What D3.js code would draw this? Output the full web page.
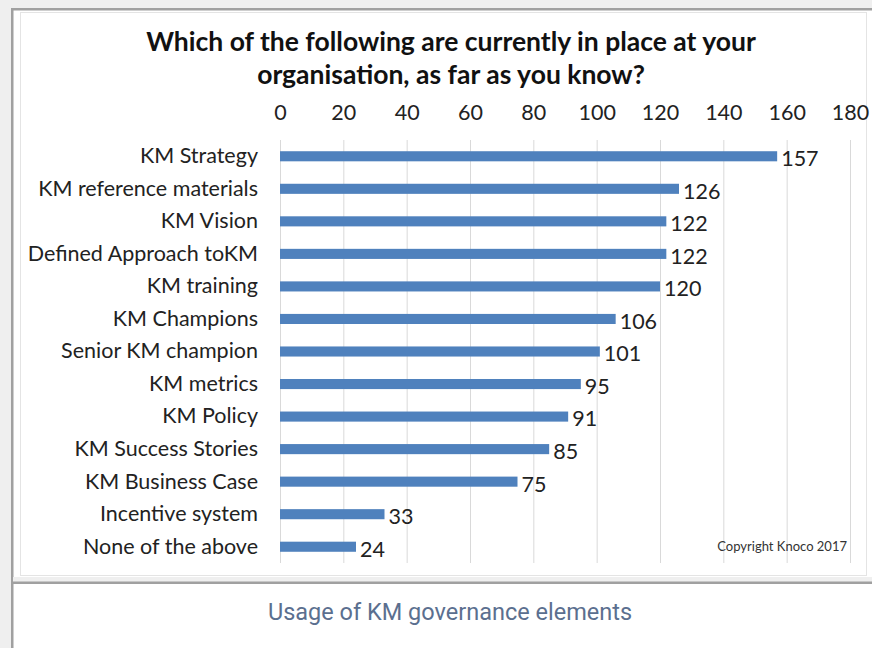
<!DOCTYPE html>
<html>
<head>
<meta charset="utf-8">
<script src="https://cdn.jsdelivr.net/npm/d3@7"></script>
<style>
  html, body { margin: 0; padding: 0; background: #ffffff; }
  svg { display: block; }
</style>
</head>
<body>
<svg id="chart" width="872" height="648"></svg>
<script>
// Survey responses: governance elements in place
const categories = [
  "KM Strategy",
  "KM reference materials",
  "KM Vision",
  "Defined Approach toKM",
  "KM training",
  "KM Champions",
  "Senior KM champion",
  "KM metrics",
  "KM Policy",
  "KM Success Stories",
  "KM Business Case",
  "Incentive system",
  "None of the above"
];
const counts = [157, 126, 122, 122, 120, 106, 101, 95, 91, 85, 75, 33, 24];
const tickValues = [0, 20, 40, 60, 80, 100, 120, 140, 160, 180];
const titleLines = [
  "Which of the following are currently in place at your",
  "organisation, as far as you know?"
];
const caption = "Usage of KM governance elements";
const copyright = "Copyright Knoco 2017";

const svg = d3.select("#chart");
const W = 872, H = 648;

// page frame
svg.append("rect").attr("x", 0).attr("y", 0).attr("width", W).attr("height", H).attr("fill", "#ffffff");
svg.append("rect").attr("x", 0).attr("y", 0).attr("width", W).attr("height", 9).attr("fill", "#efefef");
svg.append("rect").attr("x", 0).attr("y", 0).attr("width", 11).attr("height", H).attr("fill", "#efefef");
svg.append("rect").attr("x", 11).attr("y", 8).attr("width", W - 11).attr("height", 2.5).attr("fill", "#a0a0a0");
svg.append("rect").attr("x", 11).attr("y", 8).attr("width", 2.5).attr("height", H - 8).attr("fill", "#a0a0a0");

// chart image panel
svg.append("rect").attr("x", 20.5).attr("y", 12.5).attr("width", 846).attr("height", 563)
  .attr("fill", "#ffffff").attr("stroke", "#e4e4e4").attr("stroke-width", 1);

// caption strip separator
svg.append("rect").attr("x", 13).attr("y", 577).attr("width", W - 13).attr("height", 5).attr("fill", "#efefef");
svg.append("rect").attr("x", 11).attr("y", 581.5).attr("width", W - 11).attr("height", 2.5).attr("fill", "#a0a0a0");

const font = "Lato, 'Open Sans', sans-serif";
const fs = 21.5;

// title
const title = svg.append("text")
  .attr("text-anchor", "middle")
  .attr("font-family", font)
  .attr("font-weight", "bold")
  .attr("font-size", 26.5)
  .attr("fill", "#111");
titleLines.forEach((t, i) => {
  title.append("tspan").attr("x", 451).attr("y", 51 + i * 33).text(t);
});

// scales
const x = d3.scaleLinear().domain([0, 180]).range([280, 850]);
const y = d3.scaleBand().domain(categories).range([140, 563]).paddingInner(0.69).paddingOuter(0.345);

// gridlines
svg.append("g")
  .selectAll("line")
  .data(tickValues)
  .join("line")
  .attr("x1", d => x(d) + 0.5).attr("x2", d => x(d) + 0.5)
  .attr("y1", 140).attr("y2", 563)
  .attr("stroke", "#d9d9d9").attr("stroke-width", 1);

// top axis
const xAxis = svg.append("g")
  .attr("transform", "translate(0,120)")
  .call(d3.axisTop(x).tickValues(tickValues).tickSize(0).tickPadding(0));
xAxis.select(".domain").remove();
xAxis.selectAll("text")
  .attr("font-family", font)
  .attr("font-size", fs)
  .attr("fill", "#222")
  .attr("dy", "0");

// category axis
const yAxis = svg.append("g")
  .attr("transform", "translate(258,0)")
  .call(d3.axisLeft(y).tickSize(0).tickPadding(0));
yAxis.select(".domain").remove();
yAxis.selectAll("text")
  .attr("font-family", font)
  .attr("font-size", fs)
  .attr("fill", "#222")
  .attr("dy", "0.32em");

// bars
svg.append("g")
  .selectAll("rect")
  .data(counts)
  .join("rect")
  .attr("x", x(0))
  .attr("y", (d, i) => y(categories[i]))
  .attr("width", d => x(d) - x(0))
  .attr("height", y.bandwidth())
  .attr("fill", "#4f81bd");

// value labels
svg.append("g")
  .selectAll("text")
  .data(counts)
  .join("text")
  .attr("x", d => x(d) + 4)
  .attr("y", (d, i) => y(categories[i]) + y.bandwidth() / 2 + 3)
  .attr("dy", "0.32em")
  .attr("font-family", font)
  .attr("font-size", fs)
  .attr("fill", "#222")
  .text(d => d);

// copyright note
svg.append("text")
  .attr("x", 847).attr("y", 551)
  .attr("text-anchor", "end")
  .attr("font-family", font)
  .attr("font-size", 13)
  .attr("fill", "#333")
  .text(copyright);

// caption
svg.append("text")
  .attr("x", 450).attr("y", 620)
  .attr("text-anchor", "middle")
  .attr("font-family", "Roboto, 'Open Sans', sans-serif")
  .attr("font-size", 23.5)
  .attr("fill", "#5b6f8f")
  .text(caption);
</script>
</body>
</html>
